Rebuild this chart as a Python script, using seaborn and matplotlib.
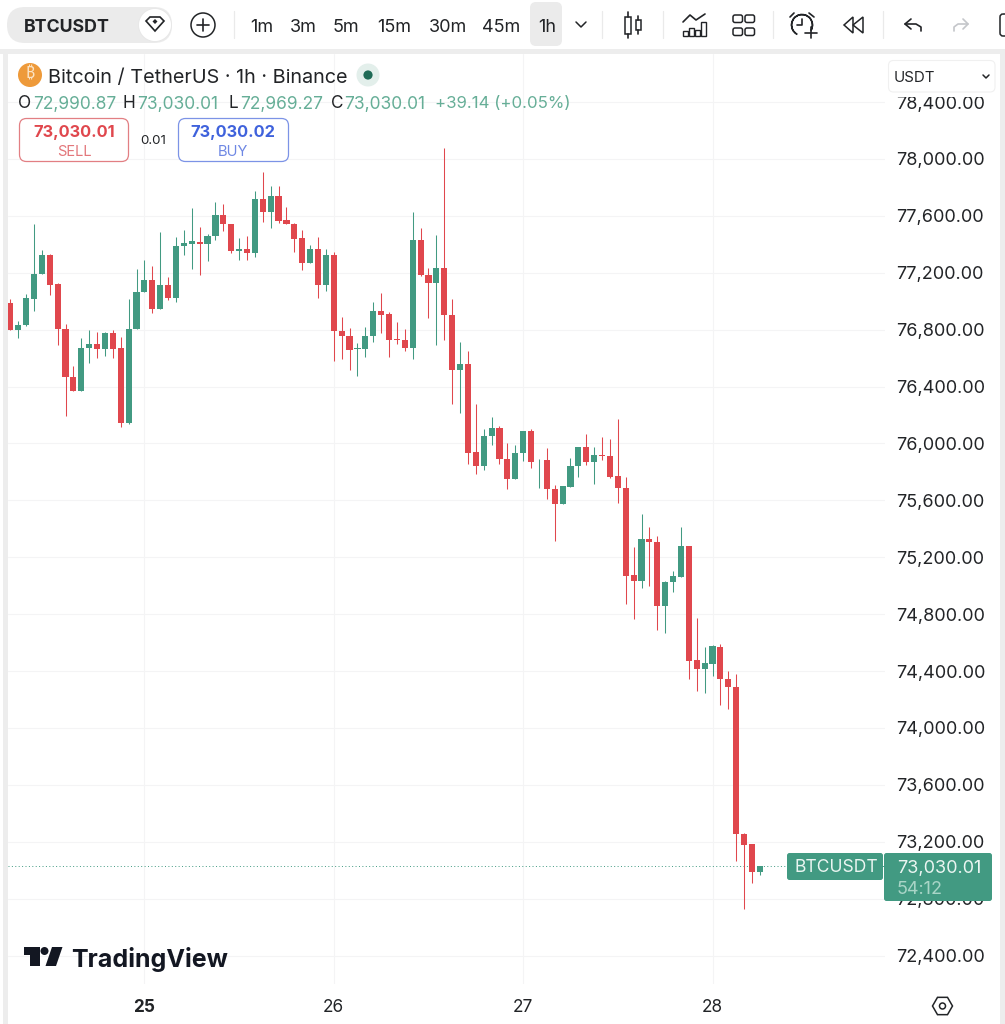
import numpy as np
import pandas as pd
import seaborn as sns
import matplotlib
matplotlib.use('Agg')
import matplotlib.pyplot as plt
from matplotlib.patches import FancyBboxPatch, Circle, Polygon, Rectangle, RegularPolygon, Wedge
from matplotlib.transforms import ScaledTranslation

# candle values, 1h bars
opens = [76986, 76796, 76831, 77019, 77190, 77323, 77119, 76805, 76470, 76370,
         76672, 76698, 76665, 76777, 76670, 76147, 76803, 77063, 77152, 76946,
         77112, 77023, 77386, 77405, 77419, 77401, 77457, 77609, 77546, 77354,
         77370, 77337, 77717, 77625, 77740, 77569, 77546, 77443, 77267, 77370,
         77115, 77323, 76794, 76759, 76667, 76665, 76752, 76930, 76909, 76735,
         76726, 76670, 77431, 77187, 77131, 77232, 76906, 76517, 76559, 75939,
         75840, 76051, 76111, 75893, 75748, 75930, 76087, 75881, 75881, 75682,
         75577, 75694, 75839, 75977, 75872, 75919, 75909, 75769, 75687, 75073,
         75031, 75331, 75305, 74860, 75024, 75061, 75279, 74476, 74415, 74450,
         74572, 74344, 74288, 73257, 73182, 72990.87]
closes = [76796, 76834, 77021, 77192, 77323, 77115, 76803, 76466, 76370, 76674,
          76698, 76665, 76777, 76665, 76147, 76805, 77065, 77152, 76946, 77112,
          77023, 77391, 77408, 77422, 77401, 77461, 77609, 77543, 77354, 77370,
          77337, 77717, 77625, 77740, 77562, 77541, 77438, 77267, 77370, 77115,
          77323, 76791, 76759, 76660, 76672, 76754, 76930, 76904, 76728, 76728,
          76670, 77431, 77183, 77131, 77232, 76906, 76517, 76559, 75936, 75840,
          76051, 76110, 75891, 75748, 75933, 76087, 75872, 75886, 75680, 75577,
          75698, 75841, 75977, 75872, 75916, 75914, 75764, 75684, 75071, 75031,
          75331, 75305, 74860, 75029, 75068, 75279, 74471, 74415, 74455, 74574,
          74342, 74286, 73252, 73177, 72985, 73030.01]
highs = [77014, 76862, 77049, 77546, 77361, 77330, 77131, 76841, 76545, 76740,
         76801, 76787, 76787, 76798, 76747, 77014, 77227, 77290, 77248, 77487,
         77169, 77454, 77499, 77654, 77522, 77471, 77698, 77684, 77546, 77443,
         77457, 77773, 77911, 77811, 77811, 77661, 77548, 77499, 77396, 77454,
         77368, 77344, 76890, 76810, 76707, 76817, 76993, 77061, 76923, 76857,
         76803, 77626, 77515, 77232, 77464, 78080, 77014, 76712, 76651, 76276,
         76103, 76185, 76125, 76001, 75989, 76087, 76104, 75893, 75968, 75705,
         75701, 75898, 75977, 76069, 75977, 76048, 76029, 76172, 75762, 75272,
         75506, 75410, 75350, 75031, 75106, 75415, 75279, 74775, 74572, 74583,
         74588, 74403, 74380, 73259, 73184, 73030.01]
lows = [76796, 76740, 76826, 76934, 77190, 77047, 76695, 76196, 76370, 76370,
        76569, 76604, 76616, 76604, 76114, 76135, 76803, 77063, 76916, 76946,
        77007, 76998, 77326, 77229, 77187, 77286, 77429, 77494, 77337, 77290,
        77290, 77309, 77560, 77513, 77553, 77541, 77349, 77222, 77267, 77023,
        77075, 76580, 76597, 76517, 76477, 76606, 76712, 76780, 76609, 76700,
        76653, 76592, 77178, 76880, 76693, 76728, 76278, 76215, 75859, 75784,
        75812, 75988, 75858, 75677, 75748, 75879, 75827, 75684, 75612, 75317,
        75577, 75694, 75766, 75846, 75715, 75886, 75759, 75579, 74874, 74764,
        74986, 75000, 74691, 74668, 74956, 75061, 74347, 74262, 74248, 74368,
        74159, 74131, 73067, 72730, 72913, 72969.27]

price_ticks = [78400, 78000, 77600, 77200, 76800, 76400, 76000, 75600, 75200,
               74800, 74400, 74000, 73600, 73200, 72800, 72400]
day_ticks = [17, 41, 65, 89]
day_labels = ['25', '26', '27', '28']
last_price = 73030.01

GREEN = '#429A82'
RED = '#E0474D'
BLUE = '#3F62DC'
INK = '#222427'
SOFT_GREEN = '#66AE97'

W, H = 1005, 1024
sns.set_style('white')
plt.rcParams['font.family'] = ['Inter', 'Noto Sans', 'Roboto', 'Open Sans', 'Lato', 'DejaVu Sans']

df = pd.DataFrame({'hour': np.arange(len(opens)), 'open': opens, 'close': closes,
                   'high': highs, 'low': lows})
df['base'] = df[['open', 'close']].min(axis=1)
df['body'] = (df['close'] - df['open']).abs()
df['up'] = df['close'] >= df['open']

fig = plt.figure(figsize=(W / 100, H / 100), dpi=100, facecolor='white')
ax = fig.add_axes([8 / W, 1 - 984 / H, (885 - 8) / W, (984 - 54) / H], zorder=1)

# bodies
for is_up, col in [(True, GREEN), (False, RED)]:
    part = df[df['up'] == is_up]
    sns.barplot(data=part, x='hour', y='body', bottom=part['base'], native_scale=True,
                color=col, saturation=1, width=0.78, errorbar=None, ax=ax,
                linewidth=0, zorder=3)
    # wicks
    ax.vlines(part['hour'], part['low'], part['high'], color=col, lw=0.75, zorder=2)

ax.axhline(last_price, color=GREEN, lw=0.7, ls=(0, (1, 2.5)), zorder=1)

ax.set_xlim(-0.29, 110.86)
ax.set_ylim(72200, 78738)
ax.set_xlabel('')
ax.set_ylabel('')
ax.set_xticks(day_ticks)
ax.set_xticklabels(day_labels, fontsize=12.4, color=INK)
ax.get_xticklabels()[0].set_fontweight('bold')
ax.yaxis.tick_right()
ax.set_yticks(price_ticks)
ax.set_yticklabels([f'{p:,.2f}' for p in price_ticks], fontsize=13, color=INK)
nudge = ScaledTranslation(0, 1.5 / 100, fig.dpi_scale_trans)
for lab in ax.get_yticklabels():
    lab.set_transform(lab.get_transform() + nudge)
ax.tick_params(axis='y', length=0, pad=8)
ax.tick_params(axis='x', length=0, pad=11)
ax.grid(True, color='#F4F4F5', lw=0.8)
ax.set_axisbelow(True)
sns.despine(ax=ax, left=True, bottom=True, right=True, top=True)

# overlay in pixel coordinates for the app chrome
ov = fig.add_axes([0, 0, 1, 1], zorder=5)
ov.set_xlim(0, W)
ov.set_ylim(H, 0)
ov.axis('off')
ov.patch.set_alpha(0)


def box(x0, y0, x1, y1, r, fc, ec='none', lw=1.0, z=1):
    p = FancyBboxPatch((x0 + r, y0 + r), x1 - x0 - 2 * r, y1 - y0 - 2 * r,
                       boxstyle=f'round,pad={r}', fc=fc, ec=ec, lw=lw, zorder=z,
                       mutation_aspect=1)
    ov.add_patch(p)


def txt(x, y, s, size=12, color=INK, weight='normal', ha='left', z=6):
    ov.text(x, y, s, fontsize=size, color=color, fontweight=weight, ha=ha, va='center_baseline', zorder=z)


def stroke(xs, ys, color=INK, lw=1.2, z=3):
    ov.plot(xs, ys, color=color, lw=lw, zorder=z, solid_capstyle='round', solid_joinstyle='round')


# pane frame
ov.add_patch(Rectangle((0, 49), W, 5, fc='#EDEDED', ec='none', zorder=0))
ov.add_patch(Rectangle((3, 49), 5, H - 49, fc='#EDEDED', ec='none', zorder=0))
ov.add_patch(Rectangle((1000, 49), 5, H - 49, fc='#EDEDED', ec='none', zorder=0))

# toolbar
box(7, 7, 172, 43, 18, '#EBEBEB')
txt(24, 25, 'BTCUSDT', 12.8, INK, 'bold')
ov.add_patch(Circle((155, 25), 16.5, fc='white', ec='#E6E6E6', lw=0.6, zorder=2))
ov.add_patch(Polygon([[146, 21], [150, 17], [160, 17], [164, 21], [155, 31]], closed=True,
                     fc='none', ec=INK, lw=1.2, zorder=3))
ov.add_patch(Polygon([[152.5, 21.5], [155, 19], [157.5, 21.5], [155, 24]], closed=True,
                     fc=INK, ec='none', zorder=3))
ov.add_patch(Circle((203, 25), 12, fc='none', ec=INK, lw=1.1, zorder=3))
stroke([197, 209], [25, 25])
stroke([203, 203], [19, 31])

for sx in [234, 602, 663, 773, 883]:
    stroke([sx, sx], [11, 38], color='#EAEAEA', lw=0.9)

box(530, 2, 562, 46, 6, '#EBEBEB')
for lx, lab in zip([262, 303, 346, 394, 448, 501, 547],
                   ['1m', '3m', '5m', '15m', '30m', '45m', '1h']):
    txt(lx, 26, lab, 13, INK, ha='center')
stroke([576, 581, 586], [22, 27, 22], lw=1.1)

# candle icon
ov.add_patch(Rectangle((625, 17), 5.5, 17, fc='none', ec=INK, lw=1.1, zorder=3))
ov.add_patch(Rectangle((636, 20), 4.5, 10, fc='none', ec=INK, lw=1.1, zorder=3))
stroke([627.7, 627.7], [12, 17])
stroke([627.7, 627.7], [34, 38])
stroke([638.2, 638.2], [16, 20])
stroke([638.2, 638.2], [30, 34])
# chart icon
stroke([683, 690, 696, 705], [22, 15, 20, 14])
for bx, bt in [(683, 31), (689, 28), (695, 30), (701, 22)]:
    ov.add_patch(Rectangle((bx, bt), 4.5, 35.5 - bt, fc='none', ec=INK, lw=1.0, zorder=3))
# layout icon
for gx in [733, 745]:
    for gy in [15, 28]:
        box(gx, gy, gx + 9.5, gy + 7.5, 2, 'none', INK, 1.1, 3)
# alarm icon
ov.add_patch(Wedge((802, 25), 10.5, 120, 30, width=0.1, fc='none', ec=INK, lw=1.1, zorder=3))
stroke([802, 802, 797], [19, 25, 25])
stroke([790, 794], [17, 13])
stroke([809, 814], [13, 17])
stroke([805, 817], [33, 33])
stroke([811, 811], [27, 38])
# rewind icon
ov.add_patch(Polygon([[844, 25], [853, 17], [853, 33]], closed=True, fc='none', ec=INK, lw=1.1, zorder=3))
ov.add_patch(Polygon([[853, 25], [863, 17], [863, 33]], closed=True, fc='none', ec=INK, lw=1.1, zorder=3))
# undo and redo
stroke([911, 905, 911], [19, 24, 29])
stroke([905, 916, 921, 921], [24, 24, 27, 31])
stroke([963, 968, 963], [19, 24, 29], color='#C4C6CA')
stroke([968, 958, 954, 954], [24, 24, 27, 31], color='#C4C6CA')
box(1000, 14, 1012, 36, 3, 'none', INK, 1.1, 3)

# legend header
ov.add_patch(Circle((30, 75), 12, fc='#EE9A3A', ec='none', zorder=3))
ov.text(30, 75, '₿', fontsize=11.5, color='#FBE3C4', ha='center', va='center', zorder=4,
        fontweight='bold', family=['Noto Sans', 'Roboto', 'Open Sans', 'Lato', 'Liberation Sans', 'DejaVu Sans'])
txt(48, 76, 'Bitcoin / TetherUS · 1h · Binance', 14.25, INK)
ov.add_patch(Circle((368, 75), 11.5, fc='#E3EFEB', ec='none', zorder=3))
ov.add_patch(Circle((368, 75), 4.6, fc='#1F6B56', ec='none', zorder=4))

for lx, lab, vx, val in [(18, 'O', 33, '72,990.87'), (123, 'H', 137, '73,030.01'),
                         (228, 'L', 240, '72,969.27'), (331, 'C', 344, '73,030.01')]:
    txt(lx, 102, lab, 12.4, INK)
    txt(vx, 102, val, 12.5, SOFT_GREEN)
txt(435, 102, '+39.14 (+0.05%)', 12.1, SOFT_GREEN)

# sell / buy
box(19.5, 118.5, 128.5, 161.5, 7, 'white', '#E27F83', 0.9, 2)
txt(74, 131, '73,030.01', 11.8, RED, 'bold', ha='center')
txt(74, 150, 'SELL', 10.6, '#E3777B', ha='center')
txt(153, 140, '0.01', 9.6, INK, ha='center')
box(178.5, 118.5, 288.5, 161.5, 7, 'white', '#7C93E6', 0.9, 2)
txt(233, 131, '73,030.02', 11.8, BLUE, 'bold', ha='center')
txt(233, 150, 'BUY', 10.6, '#6F88E4', ha='center')

# currency box, sits over the top price label
ov.add_patch(Rectangle((888, 88), 107, 8.5, fc='white', ec='none', zorder=2))
box(888.5, 60.5, 995, 92, 5, 'white', '#F0F0F0', 0.8, 2)
txt(894, 76, 'USDT', 10.8, INK)
stroke([983, 986, 989], [75, 78, 75], lw=1.1)

# last price badges
box(787, 853, 883, 880, 2.5, GREEN)
txt(794, 866, 'BTCUSDT', 12.6, '#EAF5F1')
box(884, 853, 992, 901, 2.5, GREEN)
txt(897, 866, '73,030.01', 13, '#EAF5F1')
txt(897, 887, '54:12', 13, '#A9D5C7')

# logo
ov.add_patch(Polygon([[23.5, 947], [40, 947], [40, 966], [30, 966], [30, 955], [23.5, 955]],
                     closed=True, fc='#131722', ec='none', zorder=3))
ov.add_patch(Circle((44.5, 951), 4, fc='#131722', ec='none', zorder=3))
ov.add_patch(Polygon([[52, 947], [62.5, 947], [56, 966], [45.5, 966]], closed=True,
                     fc='#131722', ec='none', zorder=3))
txt(71, 957, 'TradingView', 18, '#131722', 'bold')

# settings hexagon
ov.add_patch(RegularPolygon((942.5, 1006), 6, radius=10, orientation=np.pi / 2, fc='none', ec=INK, lw=1.1, zorder=3))
ov.add_patch(Circle((942.5, 1006), 3, fc='none', ec=INK, lw=1.1, zorder=3))

fig.savefig('out.png', dpi=100, facecolor='white')
